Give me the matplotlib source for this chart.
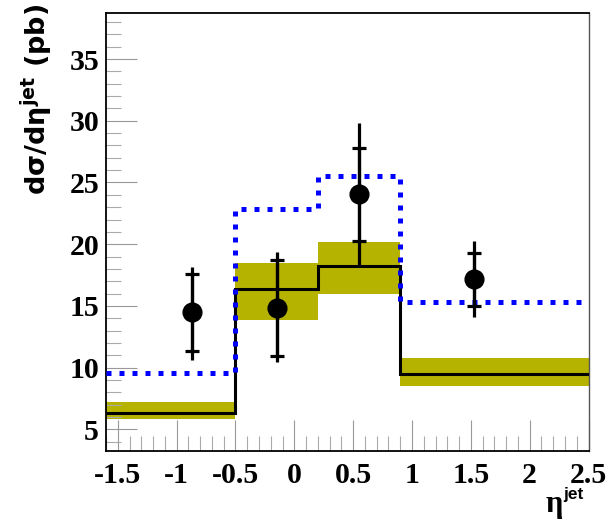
import matplotlib
matplotlib.use("Agg")
import matplotlib.pyplot as plt
import numpy as np
from matplotlib.ticker import MultipleLocator

plt.rcParams['mathtext.fontset'] = 'custom'
plt.rcParams['mathtext.rm'] = 'DejaVu Sans:bold'
plt.rcParams['mathtext.it'] = 'DejaVu Sans:bold'
plt.rcParams['mathtext.bf'] = 'DejaVu Sans:bold'

# Bin edges in eta_jet
bin_edges = [-1.6, -0.5, 0.2, 0.9, 2.5]

# NLO prediction (solid) and its uncertainty band
nlo_values = [6.33, 16.38, 18.27, 9.48]
band_low = [5.83, 13.86, 16.00, 8.55]
band_high = [7.20, 18.46, 20.16, 10.77]

# Alternative prediction (dotted blue)
alt_values = [9.59, 22.89, 25.54, 15.30]

# Measured cross sections
data_x = [-0.866, -0.143, 0.546, 1.53]
data_y = [14.49, 14.86, 24.05, 17.16]
stat_up = [3.10, 3.87, 3.73, 2.16]
stat_down = [3.12, 3.92, 3.76, 2.16]
tot_up = [3.69, 4.54, 5.76, 3.13]
tot_down = [3.87, 4.40, 5.73, 3.08]

x_tick_labels = ["-1.5", "-1", "-0.5", "0", "0.5", "1", "1.5", "2", "2.5"]
y_tick_labels = ["5", "10", "15", "20", "25", "30", "35"]

fig = plt.figure(figsize=(6.10, 5.26), dpi=100)
ax = fig.add_axes([106 / 610, 1 - 450.7 / 526, (588.5 - 106) / 610, (450.7 - 13) / 526])

edges = np.array(bin_edges)
band_color = '#b5b300'
for i in range(len(nlo_values)):
    ax.fill_between([edges[i], edges[i + 1]], band_low[i], band_high[i],
                    color=band_color, linewidth=0, zorder=1)

ax.stairs(nlo_values, edges, color='black', linewidth=2.2, zorder=3, baseline=None)
ax.stairs(alt_values, edges, color='#0000ff', linewidth=3.6, zorder=4,
          baseline=None, linestyle=(0, (1.0, 1.6)))

# total errors as plain lines, stat errors marked with caps
ax.errorbar(data_x, data_y, yerr=[tot_down, tot_up], fmt='none', ecolor='black',
            elinewidth=2.3, capsize=0, zorder=5)
ax.errorbar(data_x, data_y, yerr=[stat_down, stat_up], fmt='none', ecolor='black',
            elinewidth=2.3, capsize=4.7, capthick=2.3, zorder=5)
ax.plot(data_x, data_y, 'o', color='black', markersize=13.5, zorder=6)

ax.set_xlim(-1.6, 2.5)
ax.set_ylim(3.27, 38.73)

ax.set_xticks([float(t) for t in x_tick_labels])
ax.set_xticklabels(x_tick_labels)
ax.set_yticks([float(t) for t in y_tick_labels])
ax.set_yticklabels(y_tick_labels)
ax.xaxis.set_minor_locator(MultipleLocator(0.1))
ax.yaxis.set_minor_locator(MultipleLocator(1))

ax.tick_params(which='major', length=22, width=0.8, color='#999999', direction='in',
               top=False, right=False)
ax.tick_params(which='minor', length=11, width=0.8, color='#aaaaaa', direction='in',
               top=False, right=False)
ax.tick_params(axis='y', which='major', pad=5)
ax.tick_params(axis='x', which='major', pad=8)
for lab in ax.get_xticklabels() + ax.get_yticklabels():
    lab.set_fontfamily('Liberation Serif')
    lab.set_fontweight('bold')
    lab.set_fontsize(21.5)

for side in ['left', 'bottom', 'top']:
    ax.spines[side].set_linewidth(1.3)
    ax.spines[side].set_color('black')
ax.spines['right'].set_linewidth(1.0)
ax.spines['right'].set_color('#555555')

# y-axis title, right-aligned to the top of the axis
fig.text(37 / 610, 1 - 4 / 526, 'dσ/dη$^{\\mathbf{jet}}$ (pb)', rotation=90,
         ha='center', va='top', fontfamily='DejaVu Sans', fontweight='bold',
         fontsize=19.5)

# x-axis title
fig.text(554 / 610, 1 - 512 / 526, 'η', fontsize=22, ha='center', va='baseline',
         fontfamily='Liberation Serif', fontweight='bold')
fig.text(563 / 610, 1 - 499 / 526, 'jet', fontsize=12.5, ha='left', va='baseline',
         fontfamily='Liberation Sans', fontweight='bold')

fig.savefig('out.png', dpi=100)
